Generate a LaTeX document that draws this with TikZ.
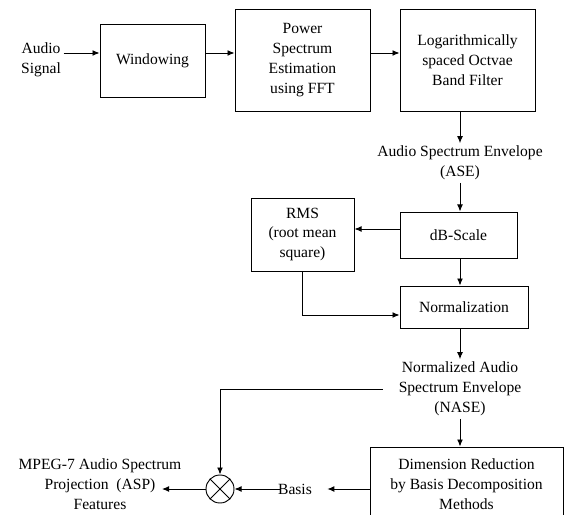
\documentclass[tikz,border=0pt]{standalone}
\usepackage{fontspec}
\setmainfont{Liberation Serif}
\usetikzlibrary{arrows.meta}

\begin{document}
\begin{tikzpicture}[x=0.03cm, y=-0.03cm, line width=0.8pt,
    font=\fontsize{13.3}{17}\selectfont,
    >={Latex[length=6pt,width=5pt]},
    blk/.style={draw, align=center, inner sep=2pt},
    lbl/.style={align=center, inner sep=2pt}]
  \useasboundingbox (0,0) rectangle (566,515);

  \node[lbl] (sig) at (41,60) {Audio\\Signal};
  \node[blk, minimum width=3.15cm, minimum height=2.19cm] (win) at (152.5,60.5) {Windowing};
  \node[blk, minimum width=4.05cm, minimum height=3.06cm] (pse) at (302.5,60) {Power\\Spectrum\\Estimation\\using FFT};
  \node[blk, minimum width=4.05cm, minimum height=3.06cm] (lob) at (467.5,60) {Logarithmically\\spaced Octvae\\Band Filter};

  \node[lbl] (ase) at (460,163) {Audio Spectrum Envelope\\(ASE)};

  \node[blk, minimum width=3.51cm, minimum height=1.38cm] (db) at (458.5,235) {dB-Scale};
  \node[blk, minimum width=3.09cm, minimum height=2.19cm] (rms) at (302.5,234.5) {RMS\\(root mean\\square)};
  \node[blk, minimum width=3.84cm, minimum height=1.26cm] (norm) at (464,307) {Normalization};

  \node[lbl] (nase) at (460,389) {Normalized Audio\\Spectrum Envelope\\(NASE)};

  \node[blk, minimum width=5.79cm, minimum height=2.22cm] (dim) at (466.5,484) {Dimension Reduction\\by Basis Decomposition\\Methods};
  \node[draw, circle, minimum size=0.84cm, inner sep=0pt] (mul) at (220,489) {};
  \draw (mul.north west) -- (mul.south east);
  \draw (mul.north east) -- (mul.south west);
  \node[inner sep=0pt] (basis) at (295,489) {Basis};
  \node[lbl] (asp) at (100,484) {MPEG-7 Audio Spectrum\\Projection~~(ASP)\\Features};
  \coordinate (out) at (162,489);
  \coordinate (row) at (0,53);

  % top row
  \draw[->] (sig.east |- row) -- (win.west |- row);
  \draw[->] (win.east |- row) -- (pse.west |- row);
  \draw[->] (pse.east |- row) -- (lob.west |- row);

  % down the right side
  \draw[->] (lob.south -| ase.north) -- (ase.north);
  \draw[->] (ase.south) -- (ase.south |- db.north);
  \draw[->] ([yshift=0.18cm]db.west) -- ([yshift=0.18cm]db.west -| rms.east);
  \draw[->] (rms.south) |- ([yshift=-0.24cm]norm.west);
  \draw[->] (db.south -| ase.south) -- (ase.south |- norm.north);
  \draw[->] (norm.south -| nase.north) -- (nase.north);
  \draw[->] (nase.south) -- (nase.south |- dim.north);

  % projection
  \draw[->] ([xshift=-0.4cm]nase.west) -| (mul.north);
  \draw[->] (dim.west |- mul) -- ([xshift=0.45cm]basis.east);
  \draw[->] ([xshift=2pt]basis.west) -- (mul.east);
  \draw[->] (mul.west) -- (out);
\end{tikzpicture}
\end{document}
